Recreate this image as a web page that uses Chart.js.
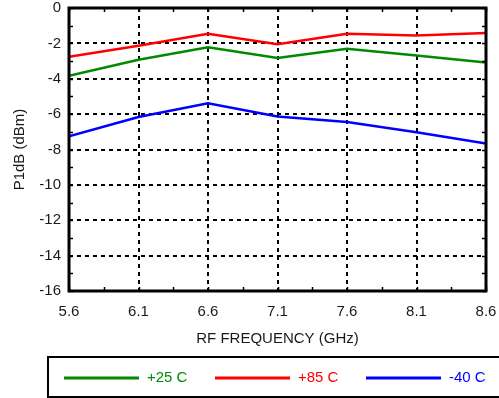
<!DOCTYPE html>
<html>
<head>
<meta charset="utf-8">
<script src="https://cdn.jsdelivr.net/npm/chart.js@4/dist/chart.umd.min.js"></script>
<style>
  html, body { margin: 0; padding: 0; background: #fff; }
  #wrap { width: 499px; height: 398px; position: relative; }
</style>
</head>
<body>
<div id="wrap"><canvas id="chart" width="499" height="398"></canvas></div>
<script>
const freqs = [5.6, 6.1, 6.6, 7.1, 7.6, 8.1, 8.6];
const p1dbRoom = [-3.83, -2.93, -2.22, -2.82, -2.31, -2.69, -3.08];
const p1dbHot = [-2.76, -2.14, -1.46, -2.05, -1.45, -1.56, -1.41];
const p1dbCold = [-7.25, -6.16, -5.39, -6.14, -6.44, -7.02, -7.66];
const seriesLabels = ['+25 C', '+85 C', '-40 C'];
const seriesColors = ['#008a00', '#ff0000', '#0000ff'];
const xTicks = [5.6, 6.1, 6.6, 7.1, 7.6, 8.1, 8.6];
const yTicks = [0, -2, -4, -6, -8, -10, -12, -14, -16];

const FONT = 'Liberation Sans, Arial, Helvetica, sans-serif';

function toPoints(ys) {
  return ys.map((y, i) => ({ x: freqs[i], y }));
}

// let layout.padding alone decide the plot margins
function fixScale(s, size) {
  if (s.isHorizontal()) s.height = size; else s.width = size;
  s.paddingTop = 0; s.paddingBottom = 0;
  s.paddingLeft = 0; s.paddingRight = 0;
}

// frame, minor ticks and the boxed legend below the plot
const decorations = {
  id: 'decorations',
  afterDatasetsDraw(chart) {
    const { ctx, chartArea: a, scales } = chart;
    const xs = scales.x, ys = scales.y;
    ctx.save();
    ctx.strokeStyle = '#000';
    ctx.lineWidth = 1.5;
    ctx.setLineDash([]);
    const tl = 4;
    for (let v = 5.6; v <= 8.6 + 1e-9; v += 0.25) {
      const px = Math.round(xs.getPixelForValue(v)) + 0.5;
      ctx.beginPath();
      ctx.moveTo(px, a.bottom); ctx.lineTo(px, a.bottom - tl);
      ctx.moveTo(px, a.top); ctx.lineTo(px, a.top + tl);
      ctx.stroke();
    }
    for (let v = -16; v <= 0; v += 1) {
      const py = Math.round(ys.getPixelForValue(v)) + 0.5;
      ctx.beginPath();
      ctx.moveTo(a.left, py); ctx.lineTo(a.left + tl, py);
      ctx.moveTo(a.right, py); ctx.lineTo(a.right - tl, py);
      ctx.stroke();
    }
    ctx.lineWidth = 3;
    ctx.strokeRect(a.left, a.top, a.right - a.left, a.bottom - a.top);
    ctx.restore();
  },
  afterDraw(chart) {
    const { ctx } = chart;
    ctx.save();
    ctx.strokeStyle = '#000';
    ctx.lineWidth = 2;
    ctx.strokeRect(48, 357, 460, 40);
    ctx.font = '15px ' + FONT;
    ctx.textBaseline = 'middle';
    chart.data.datasets.forEach((ds, i) => {
      const x0 = 64 + i * 151;
      const y0 = 378;
      ctx.strokeStyle = ds.borderColor;
      ctx.lineWidth = 3;
      ctx.beginPath();
      ctx.moveTo(x0, y0); ctx.lineTo(x0 + 75, y0);
      ctx.stroke();
      ctx.fillStyle = ds.borderColor;
      ctx.fillText(ds.label, x0 + 83, y0);
    });
    ctx.restore();
  }
};

const gridColor = (edgeA, edgeB) => (c) =>
  (c.tick && (Math.abs(c.tick.value - edgeA) < 1e-6 || Math.abs(c.tick.value - edgeB) < 1e-6))
    ? 'rgba(0,0,0,0)' : '#000';

new Chart(document.getElementById('chart'), {
  type: 'line',
  data: {
    datasets: [
      { label: seriesLabels[0], data: toPoints(p1dbRoom), borderColor: seriesColors[0] },
      { label: seriesLabels[1], data: toPoints(p1dbHot), borderColor: seriesColors[1] },
      { label: seriesLabels[2], data: toPoints(p1dbCold), borderColor: seriesColors[2] }
    ]
  },
  options: {
    responsive: false,
    animation: false,
    layout: { padding: { top: 8, right: 13, left: 0, bottom: 0 } },
    elements: {
      line: { borderWidth: 2.5, tension: 0, fill: false },
      point: { radius: 0 }
    },
    plugins: {
      legend: { display: false },
      tooltip: { enabled: false }
    },
    scales: {
      x: {
        type: 'linear',
        min: 5.6,
        max: 8.6,
        afterBuildTicks: (s) => { s.ticks = xTicks.map(v => ({ value: v })); },
        afterFit: (s) => fixScale(s, 107),
        grid: { color: gridColor(5.6, 8.6), lineWidth: 2, drawTicks: false },
        border: { display: false, dash: [4, 4] },
        ticks: {
          padding: 12,
          color: '#1a1a1a',
          font: { family: FONT, size: 15 },
          maxRotation: 0,
          callback: (v) => Number(v).toFixed(1)
        },
        title: {
          display: true,
          text: 'RF FREQUENCY (GHz)',
          color: '#1a1a1a',
          font: { family: FONT, size: 15 },
          padding: { top: 0, bottom: 50 }
        }
      },
      y: {
        min: -16,
        max: 0,
        afterBuildTicks: (s) => { s.ticks = yTicks.map(v => ({ value: v })); },
        afterFit: (s) => fixScale(s, 69),
        grid: { color: gridColor(0, -16), lineWidth: 2, drawTicks: false },
        border: { display: false, dash: [4, 4] },
        ticks: {
          padding: 8,
          color: '#1a1a1a',
          font: { family: FONT, size: 15 }
        },
        title: {
          display: true,
          text: 'P1dB (dBm)',
          color: '#1a1a1a',
          font: { family: FONT, size: 15 },
          padding: { top: 11, bottom: 0 }
        }
      }
    }
  },
  plugins: [decorations]
});
</script>
</body>
</html>
